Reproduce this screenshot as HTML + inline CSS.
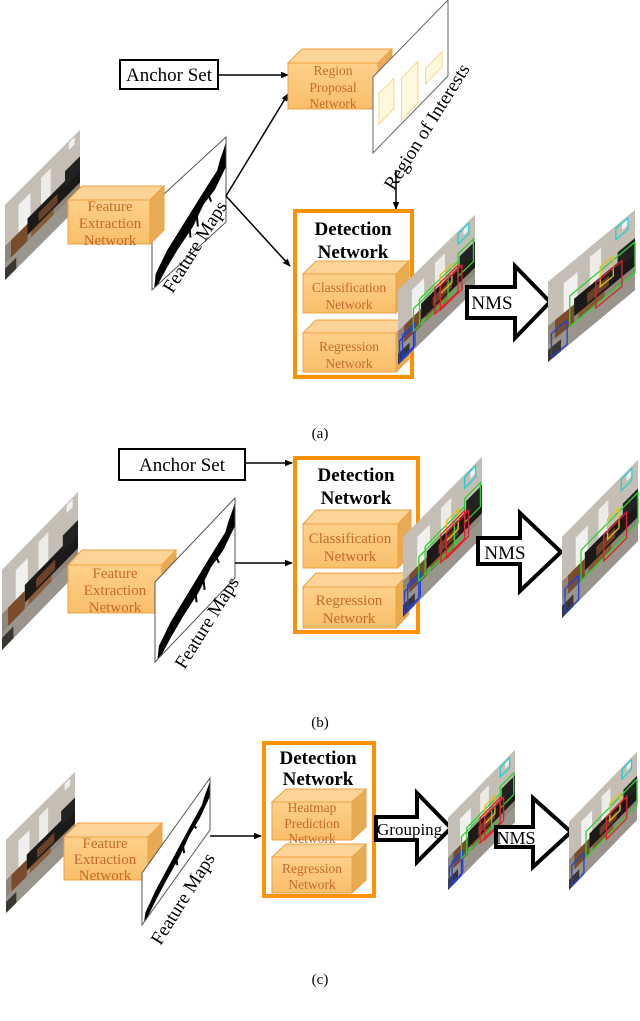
<!DOCTYPE html>
<html><head><meta charset="utf-8"><style>
html,body{margin:0;padding:0;background:#fff;}
svg{display:block;font-family:"Liberation Serif",serif;}
.bt{fill:#c8682c;font-size:15px;text-anchor:middle;}
.ct{fill:#c8682c;font-size:13.5px;text-anchor:middle;}
.dt{fill:#000;font-size:19px;font-weight:bold;text-anchor:middle;}
</style></head><body>
<svg width="640" height="1021" viewBox="0 0 640 1021" xmlns="http://www.w3.org/2000/svg">
<defs>
<marker id="ah" markerWidth="8" markerHeight="8" refX="7" refY="4" orient="auto" markerUnits="userSpaceOnUse"><path d="M0,0.8 L8,4 L0,7.2 Z" fill="#000"/></marker>
<linearGradient id="bf" x1="0" y1="0" x2="0" y2="1"><stop offset="0" stop-color="#fdd08a"/><stop offset="1" stop-color="#f9bf6a"/></linearGradient>
<g id="scene">
<rect x="0" y="0" width="100" height="100" fill="#8e867a"/>
<rect x="0" y="0" width="100" height="55" fill="#c4beb4"/>
<rect x="18" y="18" width="16" height="40" fill="#f0f0ee"/>
<rect x="48" y="12" width="13" height="38" fill="#ecebe8"/>
<rect x="85" y="2" width="8" height="10" fill="#eee"/>
<rect x="30" y="48" width="70" height="22" fill="#1c1a18"/>
<rect x="80" y="35" width="20" height="20" fill="#222"/>
<rect x="8" y="55" width="22" height="35" fill="#7a4c2c"/>
<rect x="45" y="55" width="25" height="12" fill="#6b4028"/>
<rect x="35" y="70" width="30" height="8" fill="#8a5a36"/>
<rect x="0" y="78" width="100" height="22" fill="#9a958c"/>
<rect x="0" y="85" width="15" height="15" fill="#3a3632"/>
</g>
<g id="fmap">
<rect x="0" y="0" width="100" height="100" fill="#fff"/>
<path d="M5,85 L20,70 L45,55 L70,40 L88,30 L92,20 L98,10 L100,5 L100,35 L85,50 L70,55 L55,70 L35,80 L20,90 L8,100 L3,100 Z" fill="#000"/>
<path d="M50,60 L52,80 M60,55 L62,75 M75,45 L80,60" stroke="#000" stroke-width="2" vector-effect="non-scaling-stroke"/>
</g>
<g id="boxes" fill="none" stroke-width="1.3">
<rect x="78" y="3" width="14" height="14" stroke="#20d0d0" vector-effect="non-scaling-stroke"/>
<rect x="2" y="70" width="18" height="28" stroke="#2040e0" vector-effect="non-scaling-stroke"/>
<rect x="6" y="66" width="16" height="30" stroke="#2040e0" vector-effect="non-scaling-stroke"/>
<rect x="20" y="45" width="45" height="30" stroke="#30d030" vector-effect="non-scaling-stroke"/>
<rect x="28" y="40" width="50" height="35" stroke="#30d030" vector-effect="non-scaling-stroke"/>
<rect x="78" y="30" width="20" height="30" stroke="#30d030" vector-effect="non-scaling-stroke"/>
<rect x="55" y="35" width="15" height="25" stroke="#e0c020" vector-effect="non-scaling-stroke"/>
<rect x="48" y="45" width="30" height="35" stroke="#e02030" vector-effect="non-scaling-stroke"/>
<rect x="55" y="50" width="28" height="32" stroke="#e02030" vector-effect="non-scaling-stroke"/>
</g>
<g id="boxes2" fill="none" stroke-width="1.3">
<rect x="78" y="3" width="14" height="14" stroke="#20d0d0" vector-effect="non-scaling-stroke"/>
<rect x="4" y="68" width="18" height="30" stroke="#2040e0" vector-effect="non-scaling-stroke"/>
<rect x="25" y="40" width="75" height="38" stroke="#30d030" vector-effect="non-scaling-stroke"/>
<rect x="60" y="35" width="15" height="25" stroke="#e0c020" vector-effect="non-scaling-stroke"/>
<rect x="55" y="50" width="30" height="32" stroke="#e02030" vector-effect="non-scaling-stroke"/>
</g>
</defs>

<!-- ===== (a) ===== -->
<g transform="matrix(0.75,-0.75,0,0.75,5,205)"><use href="#scene"/></g>
<g transform="matrix(0.74,-0.68,0,0.85,152,205)"><use href="#fmap"/><rect width="100" height="100" fill="none" stroke="#555" stroke-width="1" vector-effect="non-scaling-stroke"/></g>
<g stroke="#f0a040" stroke-width="1">
<polygon points="68,200 82,186 164,186 150,200" fill="#fcd497"/>
<polygon points="150,200 164,186 164,230 150,244" fill="#e8ab55"/>
<rect x="68" y="200" width="82" height="44" fill="url(#bf)"/>
</g>
<text class="bt" x="110" y="211">Feature</text><text class="bt" x="110" y="228">Extraction</text><text class="bt" x="110" y="245">Network</text>
<text x="0" y="0" font-size="19" transform="translate(200,250) rotate(-58)" text-anchor="middle">Feature Maps</text>
<line x1="226" y1="196" x2="288" y2="94" stroke="#000" stroke-width="1.5" marker-end="url(#ah)"/>
<line x1="226" y1="196" x2="290" y2="266" stroke="#000" stroke-width="1.5" marker-end="url(#ah)"/>
<rect x="120" y="60" width="98" height="29" fill="#fff" stroke="#000" stroke-width="2"/>
<text x="169" y="81" font-size="19" text-anchor="middle">Anchor Set</text>
<line x1="218" y1="75" x2="288" y2="75" stroke="#000" stroke-width="1.5" marker-end="url(#ah)"/>
<g stroke="#f0a040" stroke-width="1">
<polygon points="288,63 302,49 392,49 378,63" fill="#fcd497"/>
<polygon points="378,63 392,49 392,95 378,109" fill="#e8ab55"/>
<rect x="288" y="63" width="90" height="46" fill="url(#bf)"/>
</g>
<text class="ct" x="333" y="75">Region</text><text class="ct" x="333" y="92">Proposal</text><text class="ct" x="333" y="108">Network</text>
<g transform="matrix(0.75,-0.77,0,0.76,373,77)"><rect width="100" height="100" fill="#fff" stroke="#666" stroke-width="1" vector-effect="non-scaling-stroke"/>
<rect x="8" y="30" width="20" height="40" fill="#fff8dc" stroke="#f5d98a" vector-effect="non-scaling-stroke"/>
<rect x="38" y="40" width="22" height="55" fill="#fff8dc" stroke="#f5d98a" vector-effect="non-scaling-stroke"/>
<rect x="70" y="60" width="22" height="20" fill="#fff8dc" stroke="#f5d98a" vector-effect="non-scaling-stroke"/></g>
<text x="0" y="0" font-size="19" transform="translate(432,130) rotate(-58)" text-anchor="middle">Region of Interests</text>
<line x1="396" y1="170" x2="396" y2="209" stroke="#000" stroke-width="1.5" marker-end="url(#ah)"/>
<rect x="295" y="211" width="117" height="166" fill="#fff" stroke="#ff9000" stroke-width="4"/>
<text class="dt" x="353" y="235">Detection</text><text class="dt" x="353" y="258">Network</text>
<g stroke="#f0a040" stroke-width="1">
<polygon points="303,274 316,261 409,261 396,274" fill="#fcd497"/>
<polygon points="396,274 409,261 409,300 396,313" fill="#e8ab55"/>
<rect x="303" y="274" width="93" height="39" fill="url(#bf)"/>
<polygon points="303,333 316,320 409,320 396,333" fill="#fcd497"/>
<polygon points="396,333 409,320 409,359 396,372" fill="#e8ab55"/>
<rect x="303" y="333" width="93" height="39" fill="url(#bf)"/>
</g>
<text class="ct" x="349" y="292">Classification</text><text class="ct" x="349" y="309">Network</text>
<text class="ct" x="349" y="351">Regression</text><text class="ct" x="349" y="368">Network</text>
<g transform="matrix(0.77,-0.75,0,0.75,398,290)"><use href="#scene"/><use href="#boxes"/></g>
<polygon points="467,287 515,287 515,266 550,302 515,338 515,318 467,318" fill="#fff" stroke="#000" stroke-width="4"/>
<text x="492" y="309" font-size="19" text-anchor="middle">NMS</text>
<g transform="matrix(0.87,-0.72,0,0.8,548,282)"><use href="#scene"/><use href="#boxes2"/></g>
<text x="320" y="438" font-size="15" text-anchor="middle">(a)</text>

<!-- ===== (b) ===== -->
<g transform="matrix(0.76,-0.78,0,0.8,2,570)"><use href="#scene"/></g>
<g stroke="#f0a040" stroke-width="1">
<polygon points="68,565 82,550 176,550 162,565" fill="#fcd497"/>
<polygon points="162,565 176,550 176,598 162,613" fill="#e8ab55"/>
<rect x="68" y="565" width="94" height="48" fill="url(#bf)"/>
</g>
<text class="bt" x="115" y="578">Feature</text><text class="bt" x="115" y="595">Extraction</text><text class="bt" x="115" y="612">Network</text>
<g transform="matrix(0.8,-0.84,0,0.8,155,582)"><use href="#fmap"/><rect width="100" height="100" fill="none" stroke="#555" stroke-width="1" vector-effect="non-scaling-stroke"/></g>
<text x="0" y="0" font-size="19" transform="translate(212,626) rotate(-58)" text-anchor="middle">Feature Maps</text>
<line x1="235" y1="563" x2="292" y2="563" stroke="#000" stroke-width="1.5" marker-end="url(#ah)"/>
<rect x="119" y="449" width="126" height="31" fill="#fff" stroke="#000" stroke-width="2"/>
<text x="182" y="471" font-size="19" text-anchor="middle">Anchor Set</text>
<line x1="245" y1="463" x2="292" y2="463" stroke="#000" stroke-width="1.5" marker-end="url(#ah)"/>
<rect x="295" y="458" width="123" height="174" fill="#fff" stroke="#ff9000" stroke-width="4"/>
<text class="dt" x="356" y="481">Detection</text><text class="dt" x="356" y="504">Network</text>
<g stroke="#f0a040" stroke-width="1">
<polygon points="303,524 316,510 411,510 398,524" fill="#fcd497"/>
<polygon points="398,524 411,510 411,554 398,568" fill="#e8ab55"/>
<rect x="303" y="524" width="95" height="44" fill="url(#bf)"/>
<polygon points="303,587 316,573 409,573 396,587" fill="#fcd497"/>
<polygon points="396,587 409,573 409,614 396,628" fill="#e8ab55"/>
<rect x="303" y="587" width="93" height="41" fill="url(#bf)"/>
</g>
<text class="bt" x="350" y="543">Classification</text><text class="bt" x="350" y="561">Network</text>
<text class="bt" x="349" y="605">Regression</text><text class="bt" x="349" y="623">Network</text>
<g transform="matrix(0.79,-0.8,0,0.8,403,537)"><use href="#scene"/><use href="#boxes"/></g>
<polygon points="478,538 520,538 520,513 561,552 520,591 520,564 478,564" fill="#fff" stroke="#000" stroke-width="4"/>
<text x="505" y="559" font-size="19" text-anchor="middle">NMS</text>
<g transform="matrix(0.76,-0.77,0,0.81,562,537)"><use href="#scene"/><use href="#boxes2"/></g>
<text x="320" y="727" font-size="15" text-anchor="middle">(b)</text>

<!-- ===== (c) ===== -->
<g transform="matrix(0.69,-0.68,0,0.73,6,840)"><use href="#scene"/></g>
<g stroke="#f0a040" stroke-width="1">
<polygon points="64,837 78,823 162,823 148,837" fill="#fcd497"/>
<polygon points="148,837 162,823 162,866 148,880" fill="#e8ab55"/>
<rect x="64" y="837" width="84" height="43" fill="url(#bf)"/>
</g>
<text class="bt" x="105" y="848">Feature</text><text class="bt" x="105" y="864">Extraction</text><text class="bt" x="105" y="880">Network</text>
<g transform="matrix(0.68,-0.95,0,0.52,142,873)"><use href="#fmap"/><rect width="100" height="100" fill="none" stroke="#555" stroke-width="1" vector-effect="non-scaling-stroke"/></g>
<text x="0" y="0" font-size="19" transform="translate(188,902) rotate(-58)" text-anchor="middle">Feature Maps</text>
<line x1="210" y1="836" x2="261" y2="836" stroke="#000" stroke-width="1.5" marker-end="url(#ah)"/>
<rect x="264" y="743" width="110" height="153" fill="#fff" stroke="#ff9000" stroke-width="4"/>
<text class="dt" x="318" y="764">Detection</text><text class="dt" x="318" y="785">Network</text>
<g stroke="#f0a040" stroke-width="1">
<polygon points="272,802 286,789 366,789 352,802" fill="#fcd497"/>
<polygon points="352,802 366,789 366,827 352,840" fill="#e8ab55"/>
<rect x="272" y="802" width="80" height="38" fill="url(#bf)"/>
<polygon points="272,857 286,844 366,844 352,857" fill="#fcd497"/>
<polygon points="352,857 366,844 366,880 352,893" fill="#e8ab55"/>
<rect x="272" y="857" width="80" height="36" fill="url(#bf)"/>
</g>
<text class="ct" x="312" y="812">Heatmap</text><text class="ct" x="312" y="828">Prediction</text><text class="ct" x="312" y="843">Network</text>
<text class="ct" x="312" y="873">Regression</text><text class="ct" x="312" y="889">Network</text>
<polygon points="376,817 417,817 417,793 451,828 417,862 417,840 376,840" fill="#fff" stroke="#000" stroke-width="4"/>
<g transform="matrix(0.67,-0.68,0,0.72,448,818)"><use href="#scene"/><use href="#boxes"/></g>
<text x="377" y="835" font-size="17">Grouping</text>
<polygon points="496,827 533,827 533,798 571,832 533,867 533,847 496,847" fill="#fff" stroke="#000" stroke-width="4"/>
<text x="516" y="844" font-size="18" text-anchor="middle">NMS</text>
<g transform="matrix(0.68,-0.7,0,0.68,569,822)"><use href="#scene"/><use href="#boxes2"/></g>
<text x="320" y="984" font-size="15" text-anchor="middle">(c)</text>
</svg>
</body></html>
